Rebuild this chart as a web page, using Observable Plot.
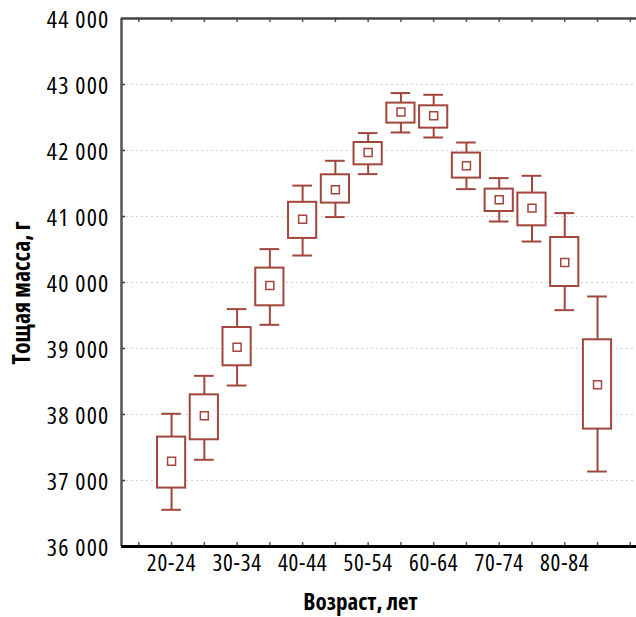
<!DOCTYPE html>
<html><head><meta charset="utf-8">
<script src="https://cdn.jsdelivr.net/npm/d3@7"></script>
<script src="https://cdn.jsdelivr.net/npm/@observablehq/plot@0.6"></script>
<style>
body{margin:0;background:#fff;}
#chart svg{display:block;}
</style></head><body><div id="chart"></div>
<script>
const categories = ["20-24","25-29","30-34","35-39","40-44","45-49","50-54","55-59","60-64","65-69","70-74","75-79","80-84","85+"];
const labeledCategories = ["20-24","30-34","40-44","50-54","60-64","70-74","80-84"];
const meanValues  = [37290, 37980, 39020, 39955, 40960, 41405, 41970, 42585, 42526, 41768, 41253, 41127, 40303, 38450];
const boxHigh     = [37658, 38298, 39318, 40218, 41215, 41632, 42121, 42718, 42677, 41961, 41415, 41355, 40682, 39132];
const boxLow      = [36885, 37617, 38738, 39647, 40668, 41203, 41783, 42415, 42339, 41582, 41076, 40859, 39939, 37779];
const whiskerHigh = [38011, 38586, 39597, 40506, 41468, 41844, 42264, 42870, 42844, 42121, 41582, 41617, 41052, 39788];
const whiskerLow  = [36556, 37314, 38439, 39359, 40409, 40991, 41642, 42273, 42197, 41415, 40924, 40621, 39581, 37136];
const yTicks = [36000, 37000, 38000, 39000, 40000, 41000, 42000, 43000, 44000];
const xTitle = "Возраст, лет";
const yTitle = "Тощая масса, г";

const rows = categories.map((c, i) => ({
  c, i, mean: meanValues[i], lo: boxLow[i], hi: boxHigh[i], wlo: whiskerLow[i], whi: whiskerHigh[i]
}));
const xTickIdx = d3.range(-1, categories.length + 1);
const gridValues = yTicks.slice(1, -1);
const xDomain = [-1.528, 14.19];
const fmt = d3.formatLocale({decimal: ",", thousands: " ", grouping: [3], currency: ["", ""]}).format(",d");
const color = "#a2463d";
const W = 636, H = 617, mL = 121, mT = 18, mB = 71;
const innerW = W - mL, innerH = H - mT - mB;

const chart = Plot.plot({
  width: W, height: H, marginLeft: mL, marginRight: 0, marginTop: mT, marginBottom: mB,
  style: {fontFamily: "'Open Sans',sans-serif", fontStretch: "75%", background: "white", color: "#000", overflow: "visible"},
  x: {type: "linear", domain: xDomain},
  y: {domain: [36000, 44000]},
  marks: [
    Plot.ruleY(gridValues, {stroke: "#d2d2d2", strokeDasharray: "2,3", strokeWidth: 1}),
    Plot.tickY(gridValues, {y: d => d, insetRight: innerW - 4, stroke: "#333", strokeWidth: 1.5}),
    Plot.tickX(xTickIdx, {x: d => d, insetBottom: innerH - 4, stroke: "#555", strokeWidth: 1.5}),
    Plot.tickX(xTickIdx, {x: d => d, insetTop: innerH - 4, stroke: "#555", strokeWidth: 1.5}),
    Plot.ruleX([xDomain[0]], {stroke: "#555", strokeWidth: 2.5}),
    Plot.ruleY([44000], {stroke: "#444", strokeWidth: 2.5}),
    Plot.ruleY([36000], {stroke: "#000", strokeWidth: 3}),
    Plot.ruleX(rows, {x: "i", y1: "hi", y2: "whi", stroke: color, strokeWidth: 2}),
    Plot.ruleX(rows, {x: "i", y1: "wlo", y2: "lo", stroke: color, strokeWidth: 2}),
    Plot.ruleY(rows, {y: "whi", x1: d => d.i - 0.3, x2: d => d.i + 0.3, stroke: color, strokeWidth: 2}),
    Plot.ruleY(rows, {y: "wlo", x1: d => d.i - 0.3, x2: d => d.i + 0.3, stroke: color, strokeWidth: 2}),
    Plot.rect(rows, {x1: d => d.i - 0.43, x2: d => d.i + 0.43, y1: "lo", y2: "hi", fill: "white", stroke: color, strokeWidth: 2}),
    Plot.dot(rows, {x: "i", y: "mean", symbol: "square", r: 4.5, stroke: color, strokeWidth: 1.5, fill: "none"}),
    Plot.axisY({ticks: yTicks, tickSize: 0, tickPadding: 12, tickFormat: fmt, fontSize: 24, fontWeight: 500, dy: 2, label: null}),
    Plot.axisX({ticks: xTickIdx, tickSize: 0, tickPadding: 8, fontSize: 23, fontWeight: 500, label: null,
      tickFormat: i => (categories[i] && labeledCategories.includes(categories[i])) ? categories[i] : ""}),
    Plot.text([xTitle], {frameAnchor: "bottom", dx: -18.5, dy: 63.5, fontWeight: "bold", fontSize: 23}),
    Plot.text([yTitle], {frameAnchor: "left", textAnchor: "middle", rotate: -90, dx: -99.5, dy: 10.5, fontWeight: "bold", fontSize: 24})
  ]
});
const svg = d3.select(chart);
svg.selectAll('g[aria-label="y-axis tick label"] text').style("letter-spacing", "1.2px");
svg.selectAll('g[aria-label="x-axis tick label"] text').style("letter-spacing", "0.8px");
document.getElementById("chart").append(chart);
</script>
</body></html>
